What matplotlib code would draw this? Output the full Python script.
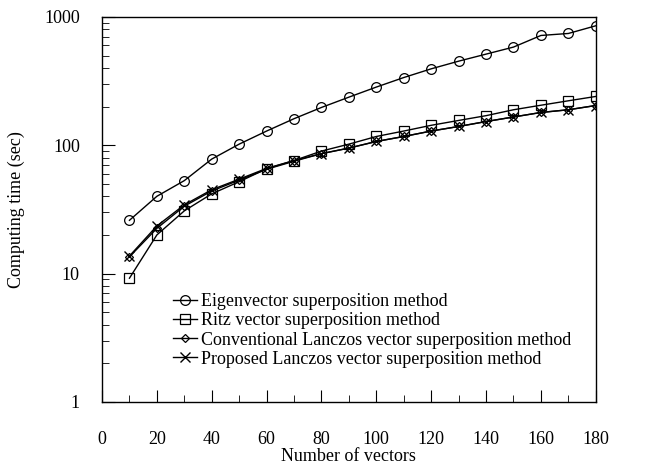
import matplotlib.pyplot as plt
from matplotlib.ticker import FixedLocator, LogLocator, NullFormatter

plt.rcParams['font.family'] = ['Liberation Serif', 'DejaVu Serif']

vectors = [10, 20, 30, 40, 50, 60, 70, 80, 90, 100, 110, 120, 130, 140, 150, 160, 170, 180]
eigen = [26, 40, 53, 78, 102, 129, 161, 197, 237, 284, 337, 394, 452, 513, 582, 717, 743, 853]
ritz = [9.2, 20, 30.8, 41.8, 52, 65.5, 76, 90, 102, 117, 129, 143, 156, 170, 189, 205, 222, 240]
conventional = [13.5, 22.5, 33.5, 44, 53.5, 65, 75, 86, 95, 107, 117, 129, 140, 153, 166, 180, 189, 204]
proposed = [13.7, 23.5, 34.3, 45, 54.4, 66, 76, 86, 95, 107, 117, 129, 140, 153, 166, 180, 189, 204]

x_ticks = [0, 20, 40, 60, 80, 100, 120, 140, 160, 180]
y_ticks = [1, 10, 100, 1000]

fig = plt.figure(figsize=(6.54, 4.70), dpi=100)
ax = fig.add_axes([0.156, 0.145, 0.755, 0.819])

ax.plot(vectors, eigen, c="black", lw=1, marker="o", ms=7, mfc="none", mew=0.9,
        label="Eigenvector superposition method")
ax.plot(vectors, ritz, c="black", lw=1, marker="s", ms=6.5, mfc="none", mew=0.9,
        label="Ritz vector superposition method")
ax.plot(vectors, conventional, c="black", lw=1, marker="D", ms=4.5, mfc="none", mew=0.9,
        label="Conventional Lanczos vector superposition method")
ax.plot(vectors, proposed, c="black", lw=1, marker="x", ms=7, mew=1,
        label="Proposed Lanczos vector superposition method")

ax.set_yscale("log")
ax.set_xlim(0, 180)
ax.set_ylim(1, 1000)
ax.xaxis.set_major_locator(FixedLocator(x_ticks))
ax.xaxis.set_minor_locator(FixedLocator([10, 30, 50, 70, 90, 110, 130, 150, 170]))
ax.yaxis.set_major_locator(FixedLocator(y_ticks))
ax.yaxis.set_minor_locator(LogLocator(base=10, subs=range(2, 10)))
ax.yaxis.set_minor_formatter(NullFormatter())
ax.set_yticklabels([str(v) for v in y_ticks])

ax.tick_params(which="both", direction="in", labelsize=13, top=False, right=False)
ax.tick_params(axis="x", which="major", length=9, pad=21)
ax.tick_params(axis="x", which="minor", length=5)
ax.tick_params(axis="y", which="major", length=9, pad=16)
ax.tick_params(axis="y", which="minor", length=5)
for s in ax.spines.values():
    s.set_linewidth(1)

ax.set_xlabel("Number of vectors", fontsize=13, labelpad=0)
ax.set_ylabel("Computing time (sec)", fontsize=13, labelpad=14)

ax.legend(loc="lower left", bbox_to_anchor=(0.13, 0.07), frameon=False, fontsize=13,
          handlelength=1.3, handletextpad=0.2, labelspacing=0.12, borderaxespad=0)

fig.savefig("out.png", dpi=100)
